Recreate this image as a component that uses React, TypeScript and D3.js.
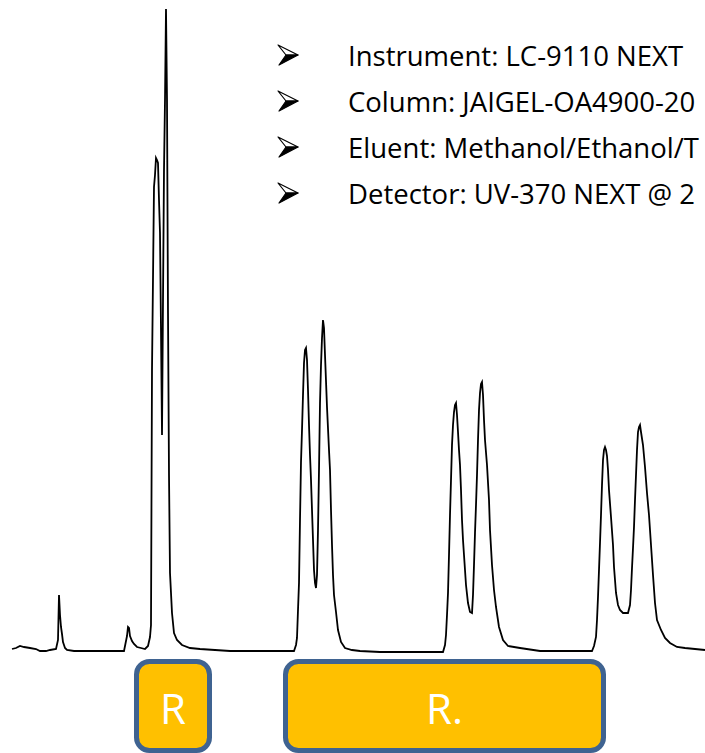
import React, { useEffect, useRef } from 'react';
import * as d3 from 'd3';

// retention (s) and detector signal (mAU)
const retention = [
  12, 16, 20, 24, 30, 36, 40, 46, 50, 56, 58, 59, 60, 61, 62, 63, 65, 67, 74, 90, 110, 124,
  126, 127, 128, 129, 130, 132, 134, 137, 141, 145, 148, 150, 151, 152, 154, 155, 156, 157,
  158, 159, 160, 161, 162, 163, 164, 165, 166, 167, 168, 169, 170, 172, 174, 177, 182, 190,
  200, 215, 230, 260, 294, 296, 297, 298, 299, 300, 301, 302, 303, 304, 305, 306, 307, 308,
  309, 310, 311, 312, 313, 314, 315, 316, 317, 318, 319, 320, 321, 322, 323, 324, 325, 327,
  329, 330, 331, 332, 333, 334, 336, 338, 341, 345, 352, 360, 380, 420, 443, 445, 446, 447,
  448, 449, 450, 451, 452, 453, 454, 455, 456, 457, 458, 459, 460, 461, 462, 463, 464, 466,
  468, 470, 472, 473, 474, 475, 476, 477, 478, 479, 480, 481, 482, 483, 484, 485, 487, 489,
  490, 492, 494, 496, 499, 503, 508, 520, 540, 570, 592, 594, 596, 597, 598, 599, 600, 601,
  602, 603, 604, 605, 606, 607, 608, 609, 611, 613, 614, 616, 618, 620, 623, 628, 630, 631,
  632, 633, 634, 635, 636, 637, 638, 639, 640, 641, 643, 645, 647, 649, 651, 653, 655, 657,
  661, 665, 670, 677, 685, 695, 705,
];
const signal = [
  1, 2, 4, 3, 2, 1, -1, -1, 0, 1, 10, 55, 35, 23, 16, 8, 2, 0, -1, -1, -1, -1,
  9, 14, 23, 22, 14, 9, 6, 3, 2, 1, 4, 13, 25, 280, 463, 475, 492, 490,
  487, 450, 417, 320, 215, 350, 480, 550, 641, 550, 337, 175, 77, 37, 17, 10, 5, 2,
  1, 0, -1, -1, -1, 5, 12, 40, 67, 130, 188, 220, 255, 287, 300, 302, 290, 260,
  225, 195, 170, 140, 110, 80, 67, 62, 75, 120, 180, 247, 285, 312, 330, 322, 295, 243,
  200, 180, 140, 105, 75, 55, 38, 20, 8, 2, 0, -1, -2, -2, -2, 5, 15, 35,
  57, 95, 135, 170, 205, 225, 238, 245, 247, 235, 218, 200, 185, 160, 130, 110, 95, 65,
  47, 38, 37, 55, 85, 117, 145, 175, 210, 240, 257, 266, 268, 255, 230, 210, 185, 150,
  120, 85, 60, 43, 23, 10, 4, 2, -1, -1, -1, 4, 13, 30, 53, 80, 107, 135,
  165, 190, 200, 203, 200, 194, 180, 160, 133, 105, 83, 57, 45, 40, 37, 37, 45, 60,
  82, 102, 123, 150, 175, 200, 218, 223, 225, 218, 205, 183, 157, 135, 105, 75, 47, 30,
  20, 12, 7, 3, 2, 1, 0,
];

const conditions = [
  'Instrument: LC-9110 NEXT',
  'Column: JAIGEL-OA4900-20',
  'Eluent: Methanol/Ethanol/T',
  'Detector: UV-370 NEXT @ 2',
];

// fraction labels with the retention window each box covers
const fractions = ['R', 'R.'];
const fractionStart = [134, 283];
const fractionEnd = [212, 606];

const W = 705;
const H = 753;

export default function App() {
  const svgRef = useRef<SVGSVGElement>(null);

  useEffect(() => {
    if (!svgRef.current) return;
    const svg = d3.select(svgRef.current);
    svg.selectAll('*').remove();

    const x = d3.scaleLinear().domain([0, 705]).range([0, W]);
    const y = d3.scaleLinear().domain([0, 650]).range([650, 0]);

    const pts = retention.map((t, i) => [t, signal[i]] as [number, number]);
    const line = d3.line<[number, number]>()
      .x(d => x(d[0]))
      .y(d => y(d[1]));

    svg.append('path')
      .attr('d', line(pts))
      .attr('fill', 'none')
      .attr('stroke', '#000')
      .attr('stroke-width', 1.8)
      .attr('stroke-linejoin', 'miter');

    // conditions list
    const list = svg.append('g');
    const rowY = d3.scaleLinear().domain([0, 1]).range([66, 112]);
    conditions.forEach((txt, i) => {
      const by = rowY(i);
      const cy = by - 11;
      const g = list.append('g').attr('transform', `translate(278,${cy})`);
      // arrowhead bullet
      g.append('path')
        .attr('d', 'M0,-10 L20,0 L8,0 Z')
        .attr('fill', '#fff')
        .attr('stroke', '#000')
        .attr('stroke-width', 1.2)
        .attr('stroke-linejoin', 'round');
      g.append('path')
        .attr('d', 'M8,0 L20,0 L1,10 Z')
        .attr('fill', '#000')
        .attr('stroke', '#000')
        .attr('stroke-width', 1.2)
        .attr('stroke-linejoin', 'round');
      list.append('text')
        .attr('x', 348)
        .attr('y', by)
        .attr('font-family', '"Open Sans", Lato, sans-serif')
        .attr('font-size', 27.5)
        .attr('fill', '#000')
        .text(txt);
    });

    // fraction boxes
    fractions.forEach((lab, i) => {
      const x0 = x(fractionStart[i]);
      const x1 = x(fractionEnd[i]);
      svg.append('rect')
        .attr('x', x0 + 2.5)
        .attr('y', 661.5)
        .attr('width', x1 - x0 - 5)
        .attr('height', 89)
        .attr('rx', 13)
        .attr('fill', '#FFC000')
        .attr('stroke', '#3F6391')
        .attr('stroke-width', 5);
      svg.append('text')
        .attr('x', (x0 + x1) / 2)
        .attr('y', 724)
        .attr('text-anchor', 'middle')
        .attr('font-family', '"Open Sans", Lato, sans-serif')
        .attr('font-size', 42)
        .attr('fill', '#fff')
        .text(lab);
    });
  }, []);

  return (
    <svg
      ref={svgRef}
      width={W}
      height={H}
      style={{ position: 'absolute', left: 0, top: 0, background: '#fff', overflow: 'hidden' }}
    />
  );
}
